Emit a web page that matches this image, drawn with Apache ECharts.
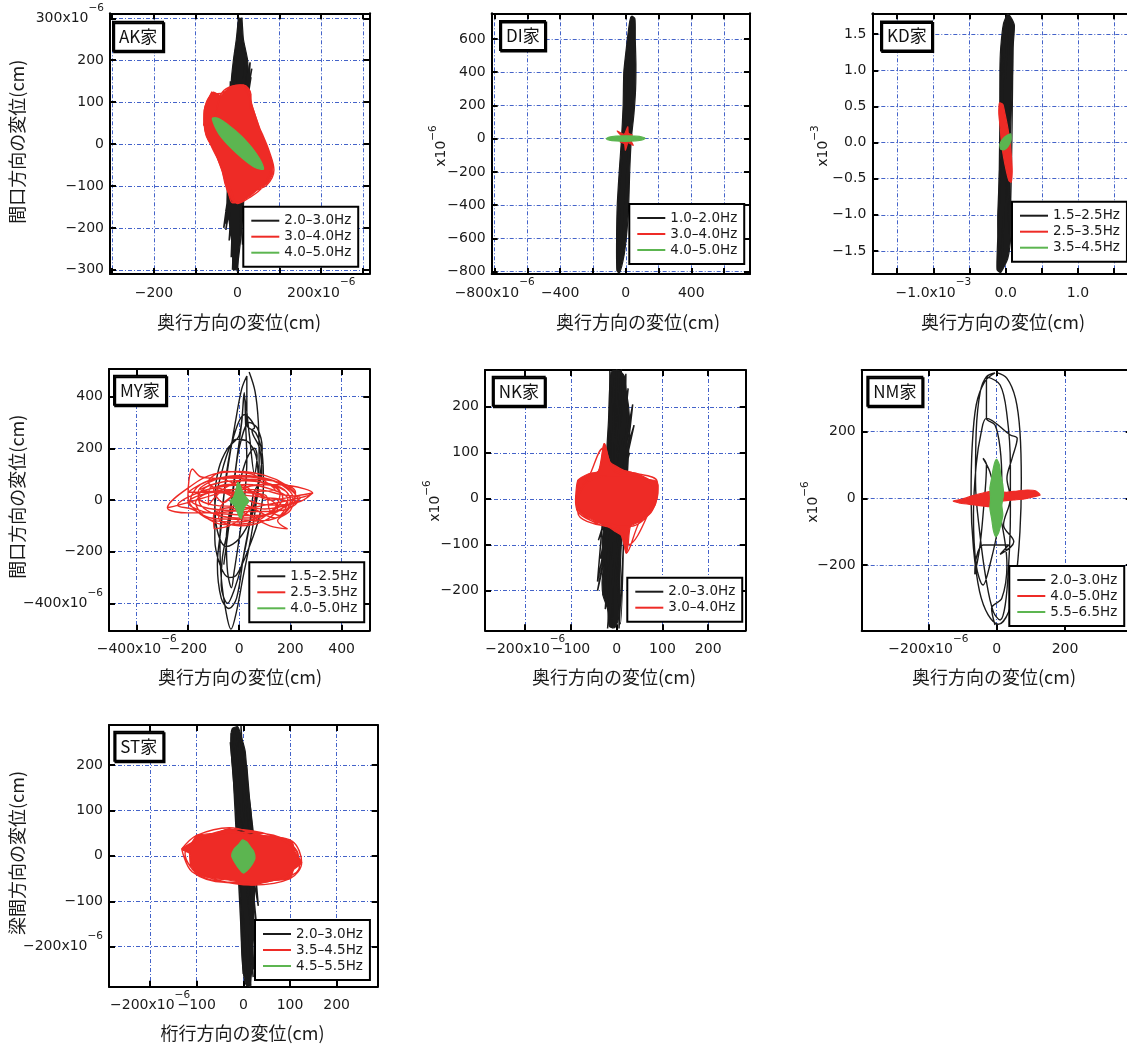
<!DOCTYPE html>
<html><head><meta charset="utf-8">
<script src="https://cdn.jsdelivr.net/npm/echarts@6/dist/echarts.min.js"></script>
<style>html,body{margin:0;padding:0;background:#fff}#c{width:1127px;height:1044px}</style>
</head><body><div id="c"></div>
<script>
// ===== DATA (AK..ST: x10^-6 cm, KD: x10^-3 cm) =====
const akBlackFill=[[3,300],[10,298],[14,250],[24,200],[26,150],[18,100],[14,0],[16,-100],[14,-150],[10,-200],[5,-250],[-2,-298],[-10,-300],[-12,-250],[-18,-200],[-24,-150],[-18,-100],[-14,0],[-13,100],[-15,150],[-10,200],[-3,250]];
const akBlackTrace=[[2,295],[-8,-280],[10,302],[-12,-300],[14,240],[-18,-220],[22,205],[-33,-200],[34,180],[-28,-160],[28,150],[-20,-120],[-17,150],[-25,-140],[8,260],[-5,-250],[30,195],[-30,-190],[15,230],[-15,-270],[5,290],[0,-305],[12,220],[-20,-230],[25,170],[-10,-160],[-12,100],[18,-110],[6,280],[-3,-295],[20,200],[-28,-205],[32,160],[-22,-180],[-14,120],[12,-240]];
const akRedFill=[[14,140],[28,128],[34,95],[45,60],[58,20],[72,-15],[82,-40],[84,-70],[70,-95],[52,-105],[32,-122],[8,-137],[-10,-138],[-20,-122],[-30,-95],[-36,-68],[-46,-40],[-56,-15],[-70,10],[-79,38],[-80,80],[-72,104],[-58,124],[-40,116],[-20,134],[-4,140]];
const akRedTrace=[[-61,125],[-75,92],[-81,45],[-60,50],[-40,118],[-20,136],[14,141],[32,118],[30,90],[40,65],[60,22],[76,-18],[87,-62],[70,-98],[40,-112],[20,-128],[6,-138],[-12,-140],[-22,-115],[-32,-80],[-38,-58],[-58,-12],[-76,24],[-80,72],[-62,118],[-35,122],[-8,138],[20,128],[36,86],[52,40],[68,-4],[82,-50],[60,-102],[28,-128],[0,-142],[-18,-104],[-42,-46],[-66,4],[-78,56],[-61,125]];
const akGreen=[[-60,62],[-48,62],[-35,55],[-20,44],[-5,32],[10,18],[25,2],[40,-16],[52,-34],[60,-50],[62,-60],[55,-60],[42,-56],[28,-47],[13,-35],[-2,-22],[-17,-8],[-32,8],[-45,25],[-55,44],[-60,58]];

const diBlackFill=[[38,738],[56,722],[58,600],[62,450],[60,300],[50,150],[34,0],[24,-200],[18,-400],[8,-550],[-10,-700],[-38,-808],[-54,-795],[-56,-600],[-52,-400],[-40,-200],[-26,0],[-16,200],[-12,400],[4,550],[20,680],[30,730]];
const diBlackTrace=[[-46,-800],[42,730],[-50,-620],[52,725],[-40,-700],[56,560],[-46,-480],[38,500],[-30,-660],[48,700],[-50,-780],[30,420],[-22,-420],[52,650],[-44,-720],[20,300],[-12,-300],[45,600]];
const diRed=[[12,72],[16,32],[40,22],[24,2],[46,-40],[14,-24],[-2,-70],[-8,-30],[-34,-20],[-18,6],[-53,46],[-10,26]];
const diGreen=[[-118,0],[-100,10],[-60,15],[0,17],[60,15],[100,10],[118,2],[100,-8],[60,-13],[0,-16],[-60,-14],[-100,-9]];

const kdBlackFill=[[0.03,1.78],[0.08,1.72],[0.12,1.62],[0.1,1.3],[0.095,1.0],[0.08,0.5],[0.06,0],[0.06,-0.5],[0.07,-1.0],[0.07,-1.3],[0.03,-1.6],[-0.07,-1.8],[-0.12,-1.76],[-0.11,-1.3],[-0.11,-1.0],[-0.09,-0.5],[-0.07,0],[-0.08,0.5],[-0.08,1.0],[-0.07,1.3],[-0.03,1.65]];
const kdBlackTrace=[[-0.1,-1.76],[0.03,1.78],[-0.08,-1.5],[0.11,1.62],[-0.11,-1.7],[0.08,1.5],[-0.05,-1.6],[0.06,1.72],[-0.09,-1.4],[0.1,1.4],[0.05,-1.27],[-0.05,1.3],[-0.1,-1.78],[0.02,1.75],[-0.07,-1.1],[0.09,1.1]];
const kdRed=[[-0.085,0.55],[-0.04,0.53],[-0.01,0.4],[0.03,0.2],[0.06,0],[0.08,-0.2],[0.09,-0.4],[0.075,-0.55],[0.045,-0.53],[0.01,-0.4],[-0.03,-0.2],[-0.06,0],[-0.075,0.2],[-0.095,0.4]];
const kdGreen=[[-0.08,-0.02],[-0.04,0.05],[0.02,0.1],[0.07,0.12],[0.075,0.04],[0.035,-0.05],[-0.02,-0.1],[-0.07,-0.09]];

const myBlackTrace=[[39,495],[62,420],[75,300],[78,150],[68,0],[45,-150],[15,-300],[-10,-430],[-32,-500],[-50,-440],[-70,-300],[-75,-150],[-62,0],[-40,150],[-15,300],[10,430],[30,480],[30,290],[65,260],[90,180],[95,60],[80,-60],[40,-180],[-10,-290],[-40,-300],[-75,-250],[-95,-150],[-95,-30],[-70,100],[-30,220],[-5,235],[40,220],[70,150],[75,50],[50,-60],[0,-150],[-50,-180],[-85,-120],[-95,0],[-80,120],[-45,200],[0,250],[20,415],[25,300],[30,150],[20,0],[0,-150],[-20,-280],[-30,-340],[-45,-280],[-50,-150],[-30,0],[-10,150],[10,300],[20,400],[40,250],[60,100],[70,170],[60,200],[30,160],[0,60],[-35,-80],[-65,-220],[-70,-330],[-45,-400],[-20,-350],[10,-250],[40,-100],[55,20],[88,100],[80,200],[50,270],[60,280],[20,330],[-20,250],[-50,100],[-70,-100],[-85,-250],[-70,-380],[-40,-420],[-10,-380],[20,-200],[50,-50],[80,80],[90,200],[70,280],[40,300],[0,200],[-20,60],[-40,-100],[-60,-250]];
const myRedTrace=[[-280,-30],[-200,-10],[-100,20],[0,45],[100,60],[200,55],[287,27],[200,0],[100,-20],[0,-40],[-100,-50],[-200,-50],[-280,-30],[-180,60],[-100,100],[0,110],[100,95],[180,60],[220,20],[190,-20],[100,-60],[0,-85],[-100,-80],[-170,-40],[-200,10],[-182,120],[-150,90],[-60,80],[30,40],[120,0],[250,20],[287,27],[240,-5],[150,-20],[60,-10],[-30,30],[-110,50],[-120,-20],[-50,50],[50,80],[150,70],[220,30],[200,-40],[150,-80],[189,-112],[120,-100],[40,-60],[-40,-30],[-100,-60],[-98,-112],[-40,-100],[20,-60],[60,0],[30,50],[-40,60],[-100,40],[-60,-10],[0,30],[80,20],[150,-30],[100,-80],[0,-100],[-80,-70],[-60,-10],[80,60],[160,50],[200,0],[160,-60],[120,-40],[100,20],[-150,40],[-60,70],[40,75],[130,55],[170,10],[120,-50],[20,-70],[-80,-60],[-150,-20],[-160,30],[-90,80],[10,95],[120,80],[200,40],[230,0],[170,-40],[60,-45],[-50,-40],[-130,-30],[-190,0],[-150,60],[-40,85],[80,70],[160,30],[140,-30],[40,-90],[-60,-95],[-140,-60],[-170,-10],[-100,30],[0,20],[100,10],[190,-10],[140,-70],[50,-30],[-20,10],[-120,70],[-60,110],[50,100],[140,40],[-200,30],[-120,75],[-20,90],[90,85],[170,55],[210,10],[180,-50],[90,-80],[-10,-75],[-110,-70],[-185,-35],[-240,-20],[-180,20],[-80,50],[30,60],[130,40],[190,5],[150,-45],[60,-60],[-40,-55],[-140,-45],[-200,-10],[-150,20],[-40,40],[70,40],[170,20],[240,10],[200,-15],[100,-35],[-10,-25],[-100,-20],[-160,10],[-120,55],[0,75],[110,65],[180,35]];
const myGreen=[[-6,68],[5,55],[10,40],[20,20],[38,-5],[22,-25],[15,-45],[8,-72],[-2,-60],[-10,-40],[-20,-20],[-36,-5],[-22,10],[-15,30],[-10,50]];

const nkBlackFill=[[-12,275],[0,282],[16,268],[20,240],[26,200],[28,160],[24,120],[22,80],[18,0],[10,-100],[6,-200],[4,-260],[-4,-280],[-16,-278],[-20,-240],[-30,-210],[-32,-180],[-28,-130],[-32,-95],[-28,-60],[-24,0],[-22,100],[-18,170],[-16,230]];
const nkBlackTrace=[[0,285],[-10,-282],[-15,278],[8,-272],[20,272],[-20,-282],[35,205],[-42,-200],[38,160],[-40,-90],[28,100],[-35,-130],[25,240],[-25,-240],[10,282],[5,-282],[30,180],[-42,-180],[-5,262],[-15,-262],[22,230],[-30,-210]];
const nkRedFill=[[-85,40],[-60,55],[-40,60],[-30,110],[-27,120],[-15,80],[0,70],[20,60],[45,55],[70,42],[88,38],[90,10],[85,-10],[75,-30],[50,-50],[30,-60],[25,-100],[21,-118],[10,-80],[-5,-70],[-20,-60],[-45,-50],[-75,-35],[-88,-20],[-90,0]];
const nkRedTrace=[[-85,40],[-40,60],[-27,120],[-10,70],[30,58],[88,38],[85,-10],[50,-50],[21,-118],[10,-70],[-40,-55],[-88,-20],[-70,30],[-20,50],[40,50],[80,20],[70,-30],[25,-100],[0,-60],[-60,-45],[-90,0],[-60,50],[-30,110],[-5,60],[60,45],[90,30],[80,-20],[30,-60],[-30,-58],[-85,-30],[-85,40]];

const nmBlackTrace=[[0,377],[30,360],[55,300],[68,200],[72,50],[68,-100],[55,-250],[35,-340],[5,-378],[-25,-350],[-50,-280],[-68,-150],[-75,0],[-72,150],[-60,280],[-35,350],[-5,376],[-30,365],[-48,320],[-60,200],[-62,50],[-50,-100],[-30,-250],[-10,-340],[10,-365],[25,-320],[35,-200],[40,-50],[40,100],[30,250],[10,340],[-30,365],[-30,240],[-5,220],[10,150],[15,50],[5,-80],[-20,-200],[-40,-260],[-60,-200],[-68,-50],[-60,100],[-45,200],[-30,240],[40,190],[60,180],[45,120],[30,60],[40,0],[20,-80],[50,-130],[10,-168],[35,-140],[-40,-140],[-60,-180],[-64,-228],[-50,-150],[-40,-50],[-30,100],[-40,120],[-20,80],[0,0],[30,-200],[15,-300],[-15,-330],[-5,-380]];
const nmRed=[[-127,-8],[-100,-2],[-70,8],[-40,16],[-15,22],[0,20],[30,18],[60,22],[90,25],[115,22],[127,10],[110,5],[80,-2],[50,-5],[20,-8],[0,-15],[-20,-25],[-50,-22],[-80,-18],[-110,-14]];
const nmGreen=[[0,117],[8,100],[12,70],[18,40],[20,10],[15,-20],[18,-50],[12,-80],[5,-105],[-3,-115],[-10,-95],[-15,-60],[-20,-30],[-18,0],[-20,30],[-15,60],[-10,90],[-5,110]];

const stBlackFill=[[-24,280],[-12,284],[-6,268],[4,230],[10,150],[16,100],[22,0],[24,-80],[22,-120],[20,-200],[18,-250],[14,-286],[6,-284],[0,-258],[-4,-200],[-6,-100],[-12,0],[-16,100],[-24,200],[-27,250]];
const stBlackTrace=[[-21,282],[14,-288],[-26,270],[0,-260],[-5,286],[21,-267],[-28,250],[25,-200],[7,200],[32,-110],[-27,245],[22,-250],[10,150],[32,-45],[-20,282],[16,-286],[-15,200],[28,-150],[-10,260],[10,-270]];
const stRedFill=[[-132,15],[-110,30],[-100,45],[-60,50],[-30,60],[0,50],[40,45],[80,40],[105,30],[110,10],[125,-15],[108,-30],[100,-50],[60,-55],[20,-64],[-20,-55],[-60,-50],[-100,-40],[-112,-20],[-115,5]];
const stRedTrace=[[-132,15],[-100,45],[-30,62],[40,45],[105,32],[125,-15],[100,-50],[20,-64],[-60,-52],[-112,-25],[-115,10],[-80,40],[0,52],[80,40],[118,0],[90,-45],[0,-60],[-90,-45],[-125,5],[-100,35],[-20,58],[60,45],[110,15],[120,-25],[60,-55],[-40,-58],[-110,-35],[-132,15]];
const stGreen=[[-2,35],[8,30],[15,20],[22,10],[25,-5],[18,-20],[10,-30],[0,-38],[-8,-30],[-18,-15],[-25,0],[-20,15],[-10,25]];

// tick values
const t100=[-300,-200,-100,0,100,200,300];
const t200s=[-200,-100,0,100,200];
const tDI=[-800,-600,-400,-200,0,200,400,600];
const tKD=[-1.5,-1,-0.5,0,0.5,1,1.5];
const tMY=[-400,-200,0,200,400];
const tNM=[-200,0,200];

// ===== STYLE / LAYOUT =====
const K='#1b1b1b', R='#ee2b26', G='#5cb550', GRIDC='#4463c9';
const FONT='DejaVu Sans', JP='Noto Sans CJK JP';
const grids=[], xAxes=[], yAxes=[], extraX=[], S=[], legends=[], titles=[], texts=[];

function panel(g, box, xr, yr, xT, xL, yT, yL, xSup, ySup, exp, dec){
  grids.push({left:box[0],top:box[1],width:box[2],height:box[3],containLabel:false,outerBoundsMode:'none'});
  const fmt=sup=>v=>{const r=Math.round(v*1000)/1000;let s=(Math.abs(r)<1e-9?0:r).toFixed(dec).replace('-','\u2212');if(sup!==null&&Math.abs(r-sup)<1e-9)s+='x10{s|'+exp+'}';return s;};
  const lab=(vals,sup,m)=>({show:true,customValues:vals,formatter:fmt(sup),margin:m,color:'#1a1a1a',fontSize:14,fontFamily:FONT,lineHeight:32,hideOverlap:false,showMinLabel:true,showMaxLabel:true,
    rich:{s:{fontSize:10.5,lineHeight:12,verticalAlign:'top',fontFamily:FONT,color:'#1a1a1a'}}});
  const aline={show:true,onZero:false,lineStyle:{color:'#000',width:2}};
  const tick=v=>({show:true,inside:true,length:6,customValues:v,lineStyle:{color:'#000',width:2}});
  const split={show:true,lineStyle:{color:GRIDC,width:1,type:[4,2,1,2]}};
  const xMain=xL.filter(v=>xSup===null||Math.abs(v-xSup)>1e-9);
  xAxes.push({type:'value',gridIndex:g,position:'bottom',min:xr[0],max:xr[1],axisLine:aline,axisTick:tick(xT),axisLabel:lab(xMain,null,3),splitLine:split});
  xAxes.push({type:'value',gridIndex:g,position:'top',min:xr[0],max:xr[1],axisLine:aline,axisTick:tick(xT),axisLabel:{show:false},splitLine:{show:false}});
  if(xSup!==null) extraX.push({type:'value',gridIndex:g,position:'bottom',min:xr[0],max:xr[1],axisLine:{show:false,onZero:false},axisTick:{show:false},axisLabel:lab([xSup],xSup,3),splitLine:{show:false}});
  yAxes.push({type:'value',gridIndex:g,position:'left',min:yr[0],max:yr[1],axisLine:aline,axisTick:tick(yT),axisLabel:lab(yL,ySup,6),splitLine:split});
  yAxes.push({type:'value',gridIndex:g,position:'right',min:yr[0],max:yr[1],axisLine:aline,axisTick:tick(yT),axisLabel:{show:false},splitLine:{show:false}});
}
function line(name,g,pts,color,w,z){
  S.push({type:'line',name,xAxisIndex:2*g,yAxisIndex:2*g,data:pts,color,showSymbol:false,symbol:'none',smooth:0.35,z,
    lineStyle:{width:w||1.4,color},silent:true,animation:false,clip:true});
}
function fill(name,g,pts,color,z){
  S.push({type:'custom',name,xAxisIndex:2*g,yAxisIndex:2*g,data:pts,color,itemStyle:{color},clip:true,silent:true,animation:false,z,
    renderItem:(p,api)=>p.dataIndex===0?{type:'polygon',shape:{points:pts.map(q=>api.coord(q)),smooth:0.2},style:{fill:color,stroke:color,lineWidth:1.2}}:null});
}
function legend(g,box,items){
  legends.push({orient:'vertical',left:box[0],top:box[1],icon:'rect',itemWidth:28,itemHeight:2,itemGap:2,z:50,
    padding:[7,7,7,8],borderColor:'#000',borderWidth:2,backgroundColor:'#fff',selectedMode:false,
    formatter:n=>n.split('|')[1],textStyle:{fontSize:13.5,fontFamily:FONT,color:'#1a1a1a',lineHeight:14},
    data:items.map(it=>({name:it[0],itemStyle:{color:it[1]}}))});
}
function title(text,l,t){
  titles.push({text,left:l,top:t,z:50,padding:[4,6,4,6],borderColor:'#000',borderWidth:2,backgroundColor:'#fff',
    shadowColor:'#000',shadowOffsetX:1.2,shadowOffsetY:1.5,shadowBlur:0,
    textStyle:{fontSize:17,fontWeight:'normal',fontFamily:JP,color:'#111',lineHeight:21}});
}
function jtext(text,x,y,rot){
  texts.push({type:'text',x,y,rotation:rot?Math.PI/2:0,z:100,style:{text,fontSize:18,fontFamily:JP,fill:'#1a1a1a',align:'center',verticalAlign:'middle'}});
}
function exptext(exp,x,y){
  texts.push({type:'text',x,y,rotation:Math.PI/2,z:100,style:{text:'x10{s|'+exp+'}',fontSize:14,fontFamily:FONT,fill:'#1a1a1a',align:'center',verticalAlign:'middle',lineHeight:26,
    rich:{s:{fontSize:10.5,lineHeight:12,verticalAlign:'top',fontFamily:FONT,fill:'#1a1a1a'}}}});
}

// AK
panel(0,[110,13.3,259.3,260.7],[-305,315],[-310,312],t100,[-200,0,200],t100,t100,200,300,'\u22126',0);
fill('AK|bf',0,akBlackFill,K,2); line('AK|2.0\u20133.0Hz',0,akBlackTrace,K,1.6,3);
fill('AK|rf',0,akRedFill,R,4); line('AK|3.0\u20134.0Hz',0,akRedTrace,R,1.4,5);
fill('AK|4.0\u20135.0Hz',0,akGreen,G,6);
legend(0,[243.3,206.7],[['AK|2.0\u20133.0Hz',K],['AK|3.0\u20134.0Hz',R],['AK|4.0\u20135.0Hz',G]]);
title('AK家',113,21.7);
// DI
panel(1,[491.7,13.3,258.3,260.7],[-818,758],[-815,755],tDI,[-800,-400,0,400],tDI,tDI,-800,null,'\u22126',0);
fill('DI|bf',1,diBlackFill,K,2); line('DI|1.0\u20132.0Hz',1,diBlackTrace,K,1.4,3);
fill('DI|3.0\u20134.0Hz',1,diRed,R,4); fill('DI|4.0\u20135.0Hz',1,diGreen,G,6);
legend(1,[629.3,204],[['DI|1.0\u20132.0Hz',K],['DI|3.0\u20134.0Hz',R],['DI|4.0\u20135.0Hz',G]]);
title('DI家',500,21);
// KD
panel(2,[872.3,13.3,266.8,260.7],[-1.845,1.845],[-1.82,1.79],tKD,[-1,0,1],tKD,tKD,-1,null,'\u22123',1);
fill('KD|bf',2,kdBlackFill,K,2); line('KD|1.5\u20132.5Hz',2,kdBlackTrace,K,1.4,3);
fill('KD|2.5\u20133.5Hz',2,kdRed,R,4); fill('KD|3.5\u20134.5Hz',2,kdGreen,G,6);
legend(2,[1012,201.7],[['KD|1.5\u20132.5Hz',K],['KD|2.5\u20133.5Hz',R],['KD|3.5\u20134.5Hz',G]]);
title('KD家',881,21.5);
// MY
panel(3,[109,369,260.3,261.7],[-508,508],[-506,507],tMY,tMY,tMY,tMY,-400,-400,'\u22126',0);
line('MY|1.5\u20132.5Hz',3,myBlackTrace,K,1.4,3); line('MY|2.5\u20133.5Hz',3,myRedTrace,R,1.4,5);
fill('MY|4.0\u20135.0Hz',3,myGreen,G,6);
legend(3,[249.3,562.3],[['MY|1.5\u20132.5Hz',K],['MY|2.5\u20133.5Hz',R],['MY|4.0\u20135.0Hz',G]]);
title('MY家',114,375.7);
// NK
panel(4,[485,370,260.7,260.3],[-288,282],[-286,280],t200s,t200s,t200s,t200s,-200,null,'\u22126',0);
fill('NK|bf',4,nkBlackFill,K,2); line('NK|2.0\u20133.0Hz',4,nkBlackTrace,K,1.5,3);
fill('NK|rf',4,nkRedFill,R,4); line('NK|3.0\u20134.0Hz',4,nkRedTrace,R,1.4,5);
legend(4,[627.3,577.7],[['NK|2.0\u20133.0Hz',K],['NK|3.0\u20134.0Hz',R]]);
title('NK家',492.7,376.7);
// NM
panel(5,[861.7,370,270,260.3],[-395,395],[-396,385],tNM,tNM,tNM,tNM,-200,null,'\u22126',0);
line('NM|2.0\u20133.0Hz',5,nmBlackTrace,K,1.4,3);
fill('NM|4.0\u20135.0Hz',5,nmRed,R,4); fill('NM|5.5\u20136.5Hz',5,nmGreen,G,6);
legend(5,[1009.3,566],[['NM|2.0\u20133.0Hz',K],['NM|4.0\u20135.0Hz',R],['NM|5.5\u20136.5Hz',G]]);
title('NM家',867.3,376.7);
// ST
panel(6,[109,725,268.7,261.7],[-288,288],[-288,288],t200s,t200s,t200s,t200s,-200,-200,'\u22126',0);
fill('ST|bf',6,stBlackFill,K,2); line('ST|2.0\u20133.0Hz',6,stBlackTrace,K,1.5,3);
fill('ST|rf',6,stRedFill,R,4); line('ST|3.5\u20134.5Hz',6,stRedTrace,R,1.4,5);
fill('ST|4.5\u20135.5Hz',6,stGreen,G,6);
legend(6,[255,920],[['ST|2.0\u20133.0Hz',K],['ST|3.5\u20134.5Hz',R],['ST|4.5\u20135.5Hz',G]]);
title('ST家',114.3,731.7);

// axis names
jtext('奥行方向の変位(cm)',239,321.7); jtext('奥行方向の変位(cm)',638,321.7); jtext('奥行方向の変位(cm)',1003,321.7);
jtext('奥行方向の変位(cm)',240,676.7); jtext('奥行方向の変位(cm)',614,676.7); jtext('奥行方向の変位(cm)',994,676.7);
jtext('桁行方向の変位(cm)',242.5,1033);
jtext('間口方向の変位(cm)',17,141.7,true); jtext('間口方向の変位(cm)',17,496.7,true); jtext('梁間方向の変位(cm)',17,853,true);
exptext('\u22126',441,146); exptext('\u22123',823,146); exptext('\u22126',435,501); exptext('\u22126',813,502);

const chart=echarts.init(document.getElementById('c'),null,{renderer:'canvas',width:1127,height:1044});
chart.setOption({animation:false,backgroundColor:'#fff',grid:grids,xAxis:xAxes.concat(extraX),yAxis:yAxes,series:S,legend:legends,title:titles,graphic:texts});
</script></body></html>
